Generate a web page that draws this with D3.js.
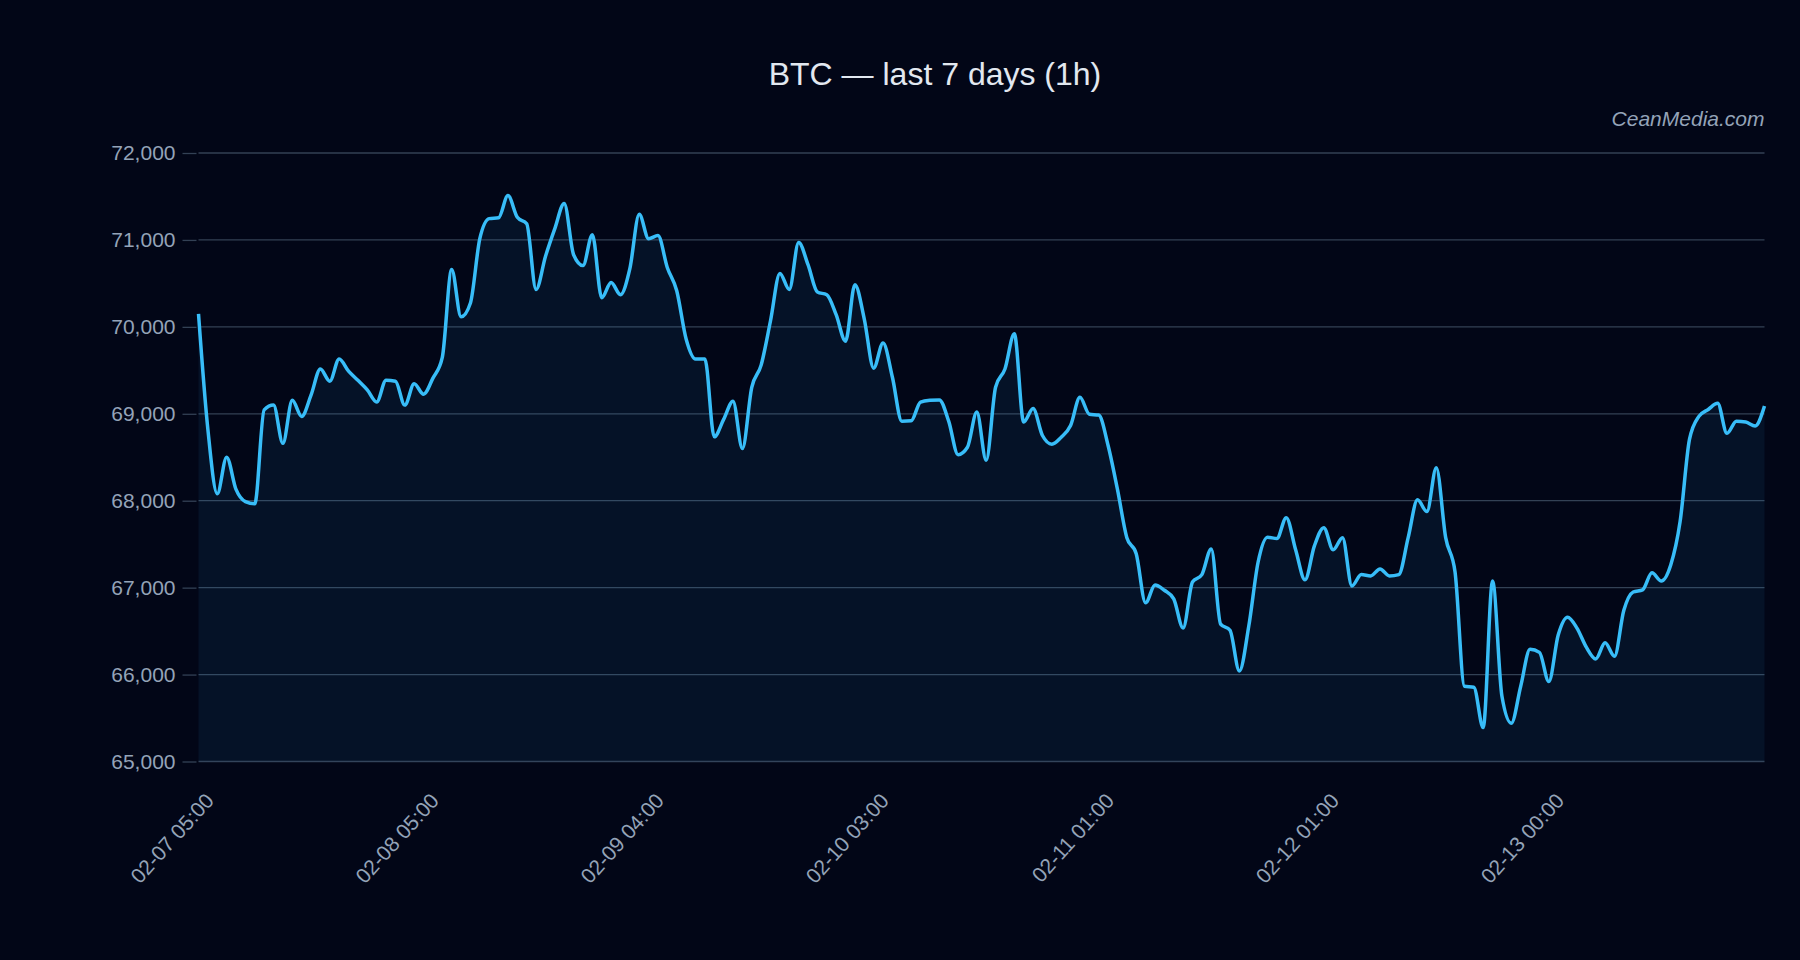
<!DOCTYPE html>
<html>
<head>
<meta charset="utf-8">
<script src="https://cdn.jsdelivr.net/npm/d3@7"></script>
<style>
  html, body { margin: 0; padding: 0; background: #020617; }
  svg { display: block; }
</style>
</head>
<body>
<div id="chart"></div>
<script>
// hourly closes (168 points)
const prices = [
  70150, 68820, 68080, 68500, 68130, 67990, 67965, 69045, 69100, 68660,
  69155, 68970, 69215, 69515, 69375, 69630, 69490, 69385, 69275, 69135,
  69385, 69375, 69100, 69345, 69225, 69410, 69650, 70660, 70115, 70275,
  71015, 71245, 71255, 71510, 71260, 71185, 70430, 70810, 71130, 71420,
  70830, 70705, 71060, 70335, 70510, 70370, 70670, 71295, 71015, 71050,
  70680, 70415, 69860, 69630, 69630, 68735, 68935, 69145, 68600, 69305,
  69560, 70070, 70615, 70430, 70970, 70715, 70400, 70370, 70140, 69835,
  70485, 70090, 69525, 69815, 69420, 68915, 68920, 69135, 69155, 69160,
  68915, 68530, 68615, 69020, 68465, 69305, 69515, 69920, 68905, 69060,
  68750, 68650, 68730, 68865, 69190, 68995, 68985, 68635, 68130, 67575,
  67390, 66825, 67030, 66970, 66870, 66535, 67065, 67150, 67445, 66580,
  66510, 66040, 66555, 67295, 67580, 67565, 67805, 67435, 67090, 67480,
  67690, 67435, 67575, 67020, 67150, 67135, 67215, 67135, 67150, 67575,
  68010, 67875, 68380, 67575, 67180, 65865, 65855, 65390, 67075, 65750,
  65440, 65865, 66290, 66255, 65920, 66455, 66660, 66535, 66315, 66180,
  66365, 66210, 66740, 66950, 66975, 67170, 67075, 67260, 67760, 68705,
  68970, 69050, 69120, 68775, 68915, 68905, 68860, 69090
];

const tickIndex = [0, 24, 48, 72, 96, 120, 144];
const tickLabels = ["02-07 05:00", "02-08 05:00", "02-09 04:00", "02-10 03:00",
                    "02-11 01:00", "02-12 01:00", "02-13 00:00"];
const yTicks = [65000, 66000, 67000, 68000, 69000, 70000, 71000, 72000];

const W = 1800, H = 960;
const margin = {top: 153, right: 35.5, bottom: 198.5, left: 198.5};
const width = W - margin.left - margin.right;
const height = H - margin.top - margin.bottom;

const svg = d3.select("#chart").append("svg")
  .attr("width", W).attr("height", H)
  .style("background", "#020617");

const g = svg.append("g").attr("transform", `translate(${margin.left},${margin.top})`);

const x = d3.scaleLinear().domain([0, prices.length - 1]).range([0, width]);
const y = d3.scaleLinear().domain([65000, 72000]).range([height, 0]);

// grid
g.append("g")
  .selectAll("line")
  .data(yTicks)
  .join("line")
    .attr("x1", 0).attr("x2", width)
    .attr("y1", d => y(d)).attr("y2", d => y(d))
    .attr("stroke", "#334155")
    .attr("stroke-width", 1.3);

// area + line
const area = d3.area()
  .x((d, i) => x(i))
  .y0(y(65000))
  .y1(d => y(d))
  .curve(d3.curveMonotoneX);

const line = d3.line()
  .x((d, i) => x(i))
  .y(d => y(d))
  .curve(d3.curveMonotoneX);

g.append("path")
  .attr("d", area(prices))
  .attr("fill", "#38bdf8")
  .attr("fill-opacity", 0.07);

g.append("path")
  .attr("d", line(prices))
  .attr("fill", "none")
  .attr("stroke", "#38bdf8")
  .attr("stroke-width", 3.5)
  .attr("stroke-linejoin", "round");

// y axis
const yAxis = g.append("g")
  .attr("transform", "translate(-2,0)")
  .call(d3.axisLeft(y).tickValues(yTicks).tickSize(14).tickPadding(7).tickFormat(d3.format(",")));
yAxis.select(".domain").remove();
yAxis.selectAll(".tick line").attr("stroke", "#334155").attr("stroke-width", 1.3);
yAxis.selectAll(".tick text")
  .attr("fill", "#94a3b8")
  .attr("font-family", "'Liberation Sans', Arial, sans-serif")
  .attr("font-size", "21px");

// x axis
const xAxis = g.append("g")
  .attr("transform", `translate(0,${height})`)
  .call(d3.axisBottom(x).tickValues(tickIndex).tickSize(0)
    .tickFormat((d, i) => tickLabels[i]));
xAxis.select(".domain").remove();
xAxis.selectAll(".tick text")
  .attr("fill", "#94a3b8")
  .attr("font-family", "'Liberation Sans', Arial, sans-serif")
  .attr("font-size", "21px")
  .attr("text-anchor", "end")
  .attr("y", 0)
  .attr("dy", 0)
  .attr("transform", "translate(16,40) rotate(-48)");

// title
svg.append("text")
  .attr("x", 935)
  .attr("y", 85)
  .attr("text-anchor", "middle")
  .attr("font-family", "'Liberation Sans', Arial, sans-serif")
  .attr("font-size", "32px")
  .attr("fill", "#e2e8f0")
  .text("BTC — last 7 days (1h)");

// watermark
svg.append("text")
  .attr("x", margin.left + width)
  .attr("y", 126)
  .attr("text-anchor", "end")
  .attr("font-family", "'Liberation Sans', Arial, sans-serif")
  .attr("font-style", "italic")
  .attr("font-size", "21px")
  .attr("fill", "#94a3b8")
  .text("CeanMedia.com");
</script>
</body>
</html>
